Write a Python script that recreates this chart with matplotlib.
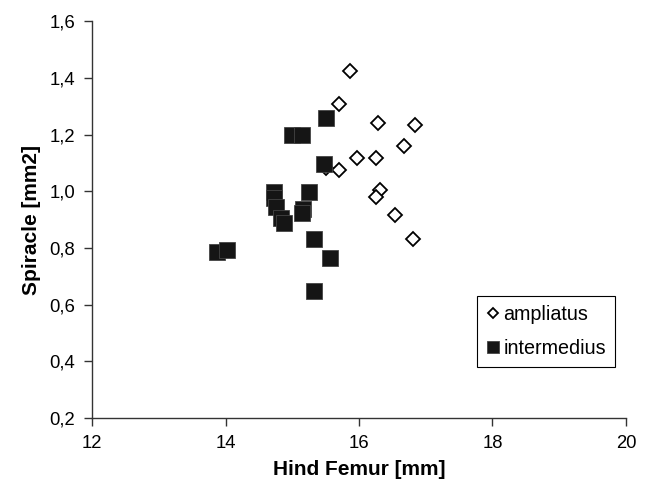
import matplotlib
matplotlib.use('Agg')
import matplotlib.pyplot as plt
from matplotlib.ticker import FuncFormatter

# Daten ------------------------------------------------------------------------

ampliatus_femur = [15.87, 15.70, 16.28, 16.84, 16.67, 15.97, 16.25, 15.70, 15.50,
                   16.31, 16.25, 16.54, 16.81]
ampliatus_spiracle = [1.425, 1.307, 1.241, 1.234, 1.160, 1.116, 1.116, 1.075, 1.081,
                      1.004, 0.980, 0.917, 0.831]

intermedius_femur = [15.50, 14.99, 15.14, 15.48, 14.72, 15.25, 14.73, 14.76, 14.83,
                     14.88, 15.16, 15.14, 15.33, 15.56, 15.33, 13.87, 14.02]
intermedius_spiracle = [1.260, 1.200, 1.200, 1.096, 0.998, 0.996, 0.975, 0.945, 0.904,
                        0.887, 0.936, 0.922, 0.831, 0.765, 0.647, 0.787, 0.793]

x_ticks = [12, 14, 16, 18, 20]
y_ticks = [0.2, 0.4, 0.6, 0.8, 1.0, 1.2, 1.4, 1.6]

# Plot -------------------------------------------------------------------------

plt.rcParams['font.family'] = ['Liberation Sans', 'DejaVu Sans']

fig = plt.figure(figsize=(6.48, 4.82), dpi=100)
ax = fig.add_axes([0.142, 0.133, 0.824, 0.823])

ax.plot(ampliatus_femur, ampliatus_spiracle, linestyle='none', marker='D',
        markersize=7.2, markerfacecolor='white', markeredgecolor='black',
        markeredgewidth=1.3, label='ampliatus')
ax.plot(intermedius_femur, intermedius_spiracle, linestyle='none', marker='s',
        markersize=11.2, markerfacecolor='#151515', markeredgecolor='#444444',
        markeredgewidth=0.6, label='intermedius')

ax.set_xlim(12, 20)
ax.set_ylim(0.2, 1.6)
ax.set_xticks(x_ticks)
ax.set_yticks(y_ticks)
ax.yaxis.set_major_formatter(FuncFormatter(lambda v, p: f'{v:.1f}'.replace('.', ',')))

for s in ['top', 'right']:
    ax.spines[s].set_visible(False)
for s in ['left', 'bottom']:
    ax.spines[s].set_color('#333333')
    ax.spines[s].set_linewidth(1.0)

ax.tick_params(direction='out', length=6, width=1.0, color='#333333',
               labelsize=13.3)
ax.tick_params(axis='y', pad=6)
ax.tick_params(axis='x', pad=6)

ax.set_xlabel('Hind Femur [mm]', fontsize=15, fontweight='bold', labelpad=6)
ax.set_ylabel('Spiracle [mm2]', fontsize=15, fontweight='bold', labelpad=6)

leg = ax.legend(loc='upper left', bbox_to_anchor=(0.721, 0.307), fontsize=14.2,
                frameon=True, fancybox=False, edgecolor='black', framealpha=1,
                handletextpad=0.2, handlelength=0.7, borderpad=0.45,
                borderaxespad=0, labelspacing=0.75, markerscale=0.75)
leg.get_frame().set_linewidth(0.8)

fig.savefig('out.png', dpi=100)
